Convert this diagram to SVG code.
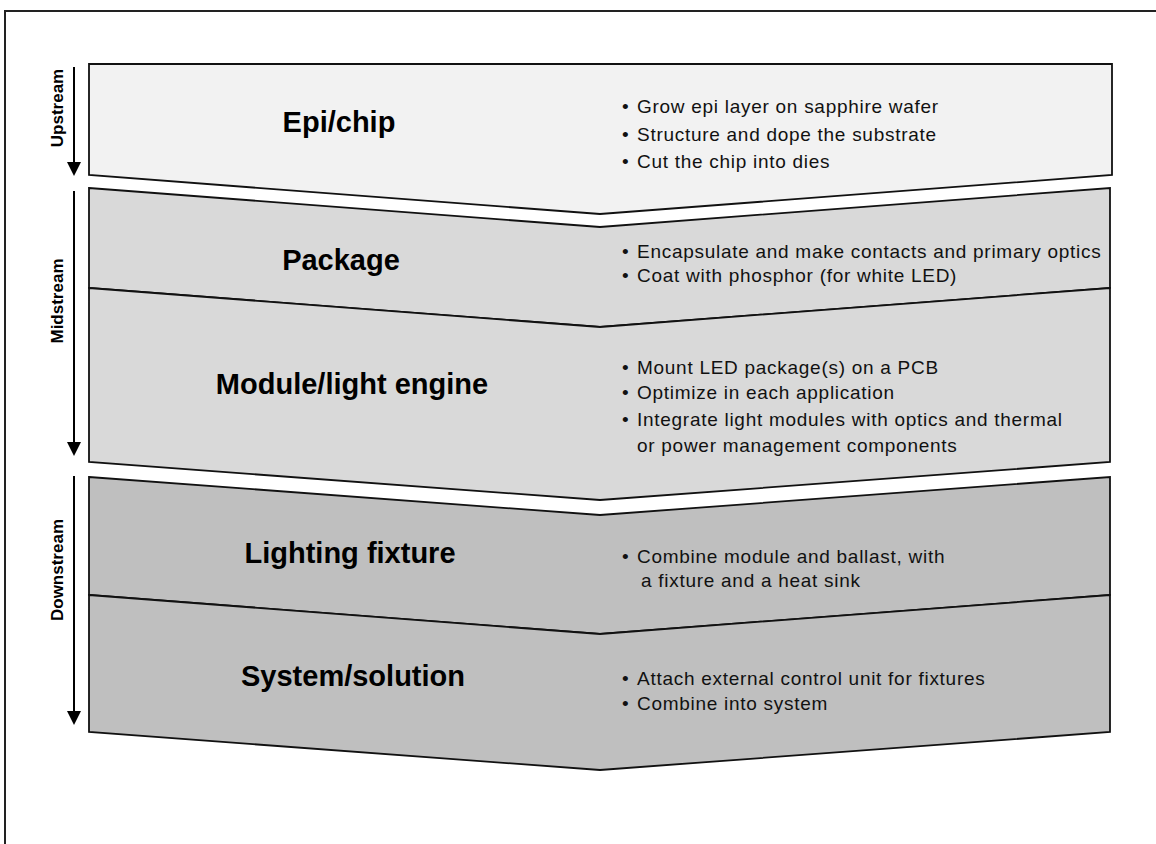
<svg xmlns="http://www.w3.org/2000/svg" width="1156" height="844" viewBox="0 0 1156 844">
  <style>
    .frame { fill: none; stroke: #222; stroke-width: 2; }
    .tier { stroke: #111; stroke-width: 1.8; stroke-linejoin: miter; }
    .up { fill: #f2f2f2; }
    .mid { fill: #d9d9d9; }
    .down { fill: #bfbfbf; }
    .title { font-family: "Liberation Sans", Arial, sans-serif; font-size: 29px; font-weight: bold; fill: #000; text-anchor: middle; }
    .bul { font-family: "Liberation Sans", Arial, sans-serif; font-size: 19px; letter-spacing: 0.72px; fill: #111; }
    .dot { font-family: "Liberation Sans", Arial, sans-serif; font-size: 19px; fill: #111; }
    .stream { font-family: "Liberation Sans", Arial, sans-serif; font-size: 17px; font-weight: bold; fill: #000; text-anchor: middle; }
    .arr { stroke: #000; stroke-width: 2; fill: none; }
    .head { fill: #000; }
  </style>

  <rect x="0" y="0" width="1156" height="844" fill="#fff"/>
  <g id="frame">
    <path class="frame" d="M 5 844 L 5 11 L 1156 11"/>
  </g>

  <g id="epi-chip">
    <polygon class="tier up" points="89,64 1112,64 1112,175 600,214 89,175"/>
    <text class="title" x="339" y="132">Epi/chip</text>
    <text class="dot" x="622" y="113">•</text>
    <text class="bul" x="637" y="113">Grow epi layer on sapphire wafer</text>
    <text class="dot" x="622" y="141">•</text>
    <text class="bul" x="637" y="141">Structure and dope the substrate</text>
    <text class="dot" x="622" y="168">•</text>
    <text class="bul" x="637" y="168">Cut the chip into dies</text>
  </g>

  <g id="package">
    <polygon class="tier mid" points="89,188 600,227 1110,188 1110,288 600,327 89,288"/>
    <text class="title" x="341" y="270">Package</text>
    <text class="dot" x="622" y="258">•</text>
    <text class="bul" x="637" y="258">Encapsulate and make contacts and primary optics</text>
    <text class="dot" x="622" y="282">•</text>
    <text class="bul" x="637" y="282">Coat with phosphor (for white LED)</text>
  </g>

  <g id="module">
    <polygon class="tier mid" points="89,288 600,327 1110,288 1110,462 600,500 89,462"/>
    <text class="title" x="352" y="394">Module/light engine</text>
    <text class="dot" x="622" y="374">•</text>
    <text class="bul" x="637" y="374">Mount LED package(s) on a PCB</text>
    <text class="dot" x="622" y="399">•</text>
    <text class="bul" x="637" y="399">Optimize in each application</text>
    <text class="dot" x="622" y="426">•</text>
    <text class="bul" x="637" y="426">Integrate light modules with optics and thermal</text>
    <text class="bul" x="637" y="452">or power management components</text>
  </g>

  <g id="lighting-fixture">
    <polygon class="tier down" points="89,477 600,515 1110,477 1110,595 600,634 89,595"/>
    <text class="title" x="350" y="563">Lighting fixture</text>
    <text class="dot" x="622" y="563">•</text>
    <text class="bul" x="637" y="563">Combine module and ballast, with</text>
    <text class="bul" x="641" y="587">a fixture and a heat sink</text>
  </g>

  <g id="system-solution">
    <polygon class="tier down" points="89,595 600,634 1110,595 1110,732 600,770 89,732"/>
    <text class="title" x="353" y="686">System/solution</text>
    <text class="dot" x="622" y="685">•</text>
    <text class="bul" x="637" y="685">Attach external control unit for fixtures</text>
    <text class="dot" x="622" y="710">•</text>
    <text class="bul" x="637" y="710">Combine into system</text>
  </g>

  <g id="connectors">
    <line class="arr" x1="74" y1="67" x2="74" y2="164"/>
    <polygon class="head" points="67,162 81,162 74,176"/>
    <line class="arr" x1="74" y1="191" x2="74" y2="444"/>
    <polygon class="head" points="67,442 81,442 74,456"/>
    <line class="arr" x1="74" y1="476" x2="74" y2="713"/>
    <polygon class="head" points="67,711 81,711 74,725"/>
  </g>

  <g id="stream-labels">
    <text class="stream" transform="translate(63,108) rotate(-90)">Upstream</text>
    <text class="stream" transform="translate(63,301) rotate(-90)">Midstream</text>
    <text class="stream" transform="translate(63,570) rotate(-90)">Downstream</text>
  </g>
</svg>
